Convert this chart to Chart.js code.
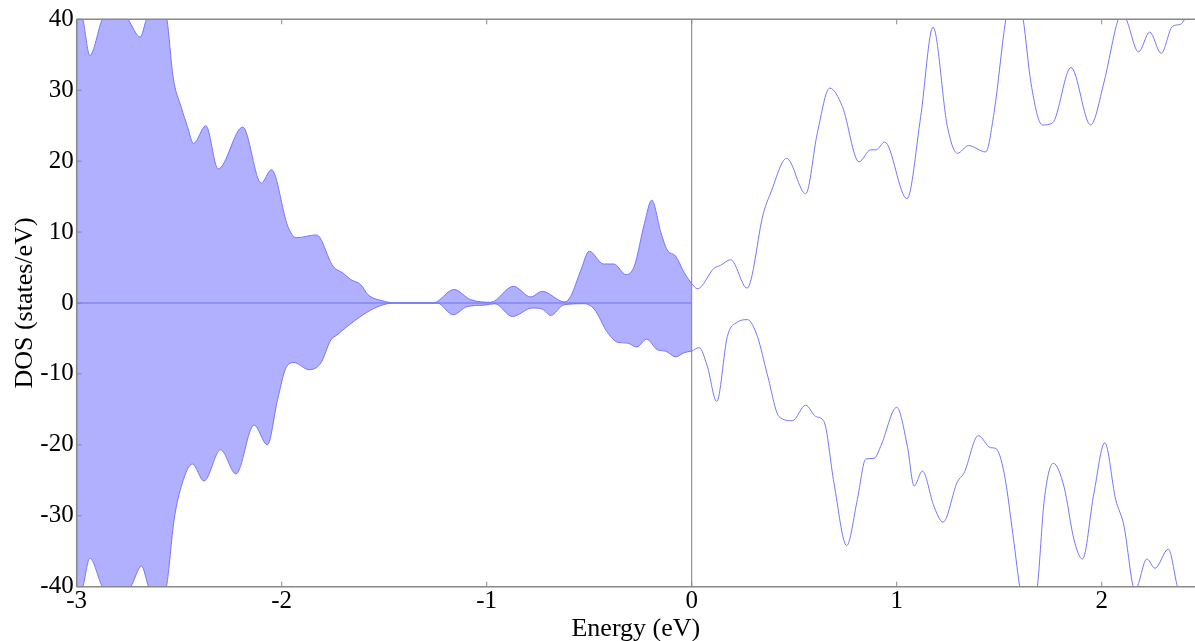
<!DOCTYPE html>
<html><head><meta charset="utf-8">
<script src="https://cdn.jsdelivr.net/npm/chart.js@4.4.1/dist/chart.umd.min.js"></script>
<style>html,body{margin:0;padding:0;background:#fff;overflow:hidden}</style>
</head><body>
<canvas id="c" width="1195" height="641"></canvas>
<script>
// ---- data ----
const xTickValues = [-3, -2, -1, 0, 1, 2];
const yTickValues = [-40, -30, -20, -10, 0, 10, 20, 30, 40];
const xRange = [-3, 2.455];
const yRange = [-40, 40];

// spin up, occupied (E <= 0)
const eUpOcc   = [-3.0,-2.97,-2.936,-2.875,-2.81,-2.75,-2.69,-2.66,-2.61,-2.56,-2.53,-2.49,-2.46,-2.43,-2.37,-2.31,-2.19,-2.10,-2.05,-1.97,-1.93,-1.83,-1.75,-1.70,-1.663,-1.615,-1.58,-1.50,-1.45,-1.26,-1.16,-1.08,-0.98,-0.87,-0.785,-0.73,-0.62,-0.59,-0.54,-0.50,-0.43,-0.38,-0.32,-0.28,-0.23,-0.195,-0.15,-0.12,-0.078,-0.037,0];
const dosUpOcc = [42,40,34.9,40,42,40,37.5,40,43,40,31.9,27.6,24.9,22.5,25.0,18.9,24.8,16.9,18.8,10.8,9.2,9.6,5.2,4.2,3.3,2.6,1.2,0.25,0.02,0.02,1.9,0.5,0.1,2.35,0.85,1.65,0.15,0.95,4.7,7.3,5.5,5.5,4.0,5.2,11.3,14.5,9.9,7.5,6.6,4.3,2.7];

// spin up, empty (E >= 0)
const eUpEmp   = [0,0.028,0.109,0.14,0.19,0.27,0.35,0.385,0.463,0.556,0.613,0.673,0.735,0.816,0.873,0.90,0.941,1.05,1.117,1.177,1.247,1.296,1.35,1.434,1.475,1.532,1.575,1.617,1.655,1.71,1.76,1.85,1.946,2.01,2.08,2.10,2.12,2.18,2.234,2.29,2.345,2.385,2.405,2.455];
const dosUpEmp = [2.7,2.0,4.9,5.3,6.1,2.1,12.7,15.5,20.4,15.4,24.0,30.3,27.7,19.9,21.6,21.6,22.7,14.7,26.3,38.9,24.9,21.1,22.2,21.3,26.9,40,46,40,31.0,25.1,25.4,33.2,25.1,31.0,40,41,40,35.4,38.2,35.2,39.0,39.3,40,42];

// spin down, occupied (E <= 0)
const eDnOcc   = [-3.0,-2.97,-2.936,-2.875,-2.81,-2.736,-2.684,-2.65,-2.61,-2.562,-2.525,-2.485,-2.436,-2.379,-2.298,-2.223,-2.135,-2.07,-2.02,-1.98,-1.94,-1.867,-1.81,-1.76,-1.73,-1.68,-1.62,-1.553,-1.485,-1.45,-1.24,-1.164,-1.095,-1.013,-0.96,-0.875,-0.777,-0.73,-0.688,-0.623,-0.525,-0.476,-0.41,-0.36,-0.314,-0.268,-0.22,-0.167,-0.127,-0.078,-0.037,0];
const dosDnOcc = [-42,-40,-36.0,-40,-42,-40,-37.1,-40,-43,-40,-30.6,-25.4,-22.7,-25.1,-20.7,-24.1,-17.2,-20.0,-13.6,-9.2,-8.4,-9.4,-8.5,-5.2,-4.5,-3.3,-2.0,-0.8,-0.1,-0.02,-0.02,-1.65,-0.5,-0.3,-0.1,-1.9,-0.7,-0.85,-1.75,-0.25,-0.1,-0.85,-4.2,-5.55,-5.65,-6.2,-5.1,-6.6,-6.8,-7.6,-7.0,-6.8];

// spin down, empty (E >= 0)
const eDnEmp   = [0,0.036,0.076,0.122,0.174,0.223,0.272,0.32,0.369,0.426,0.491,0.556,0.605,0.645,0.694,0.756,0.808,0.849,0.89,0.922,1.0,1.052,1.085,1.125,1.182,1.226,1.296,1.328,1.398,1.458,1.483,1.524,1.572,1.6,1.64,1.686,1.72,1.764,1.816,1.865,1.906,1.962,2.015,2.068,2.109,2.153,2.163,2.174,2.22,2.26,2.325,2.369,2.41,2.455];
const dosDnEmp = [-6.8,-6.3,-8.9,-13.9,-4.7,-2.7,-2.35,-4.7,-10.1,-16.0,-16.6,-14.4,-16.0,-16.7,-25.4,-34.2,-27.7,-22.0,-21.9,-20.2,-14.7,-20.2,-25.8,-23.7,-28.7,-30.9,-25.2,-24.0,-18.7,-20.4,-20.5,-24.0,-33.8,-40,-45,-40,-27.7,-22.6,-25.9,-33.4,-36.1,-26.8,-19.7,-27.7,-31.5,-40,-40.5,-40,-36.1,-37.4,-34.7,-40,-44,-46];

// reference lines
const zeroLineE = [-3, 0];
const zeroLineDos = [0, 0];
const fermiE = [0, 0];
const fermiDos = [-40, 40];

const pts = (xs, ys) => xs.map((x, i) => ({x, y: ys[i]}));

const lineCol = 'rgb(118,118,255)';
const fillCol = 'rgb(176,176,255)';
const frameCol = '#888888';
const FONT = '"Liberation Serif", "DejaVu Serif", serif';

const framePlugin = {
  id: 'frame',
  afterDatasetsDraw(chart) {
    const {ctx, chartArea: a, scales} = chart;
    ctx.save();
    ctx.strokeStyle = frameCol;
    ctx.lineWidth = 1.5;
    ctx.beginPath();
    ctx.moveTo(a.left, a.top); ctx.lineTo(a.right, a.top);
    ctx.moveTo(a.left, a.top); ctx.lineTo(a.left, a.bottom);
    ctx.moveTo(a.left, a.bottom); ctx.lineTo(a.right, a.bottom);
    ctx.stroke();
    ctx.lineWidth = 1;
    ctx.beginPath();
    scales.x.ticks.forEach(t => {
      const px = scales.x.getPixelForValue(t.value);
      ctx.moveTo(px, a.bottom); ctx.lineTo(px, a.bottom - 5);
      ctx.moveTo(px, a.top); ctx.lineTo(px, a.top + 5);
    });
    scales.y.ticks.forEach(t => {
      const py = scales.y.getPixelForValue(t.value);
      ctx.moveTo(a.left, py); ctx.lineTo(a.left + 5, py);
    });
    ctx.stroke();
    ctx.restore();
  }
};

const common = {pointRadius: 0, borderWidth: 1, cubicInterpolationMode: 'monotone', clip: 0};

new Chart(document.getElementById('c'), {
  type: 'line',
  data: {
    datasets: [
      {data: pts(fermiE, fermiDos), borderColor: '#7f7f7f', borderWidth: 1, pointRadius: 0, fill: false, clip: 0},
      {data: pts(zeroLineE, zeroLineDos), borderColor: 'rgb(110,110,240)', borderWidth: 1, pointRadius: 0, fill: false, clip: 0},
      {...common, data: pts(eUpEmp, dosUpEmp), borderColor: lineCol, fill: false},
      {...common, data: pts(eDnEmp, dosDnEmp), borderColor: lineCol, fill: false},
      {...common, data: pts(eUpOcc, dosUpOcc), borderColor: lineCol, backgroundColor: fillCol, fill: 'origin'},
      {...common, data: pts(eDnOcc, dosDnOcc), borderColor: lineCol, backgroundColor: fillCol, fill: 'origin'}
    ]
  },
  options: {
    responsive: false,
    animation: false,
    layout: {padding: {left: 0, right: 0, top: 19.3, bottom: 0}},
    plugins: {legend: {display: false}, tooltip: {enabled: false}},
    scales: {
      x: {
        type: 'linear', min: xRange[0], max: xRange[1],
        afterBuildTicks: s => { s.ticks = xTickValues.map(v => ({value: v})); },
        afterFit: s => { s.height = 641 - 586.7; },
        grid: {display: false, drawTicks: false},
        border: {display: false},
        ticks: {color: '#000', font: {family: FONT, size: 25}, padding: 0, maxRotation: 0, autoSkip: false},
        title: {display: true, text: 'Energy (eV)', color: '#000', font: {family: FONT, size: 26, lineHeight: 0.9}, padding: {top: 0, bottom: 0}}
      },
      y: {
        type: 'linear', min: yRange[0], max: yRange[1],
        afterBuildTicks: s => { s.ticks = yTickValues.map(v => ({value: v})); },
        afterFit: s => { s.width = 76.7; },
        grid: {display: false, drawTicks: false},
        border: {display: false},
        ticks: {color: '#000', font: {family: FONT, size: 25}, padding: 3, autoSkip: false},
        title: {display: true, text: 'DOS (states/eV)', color: '#000', font: {family: FONT, size: 26, lineHeight: 0.9}, padding: {top: 13, bottom: 0}}
      }
    }
  },
  plugins: [framePlugin]
});
</script>
</body></html>
